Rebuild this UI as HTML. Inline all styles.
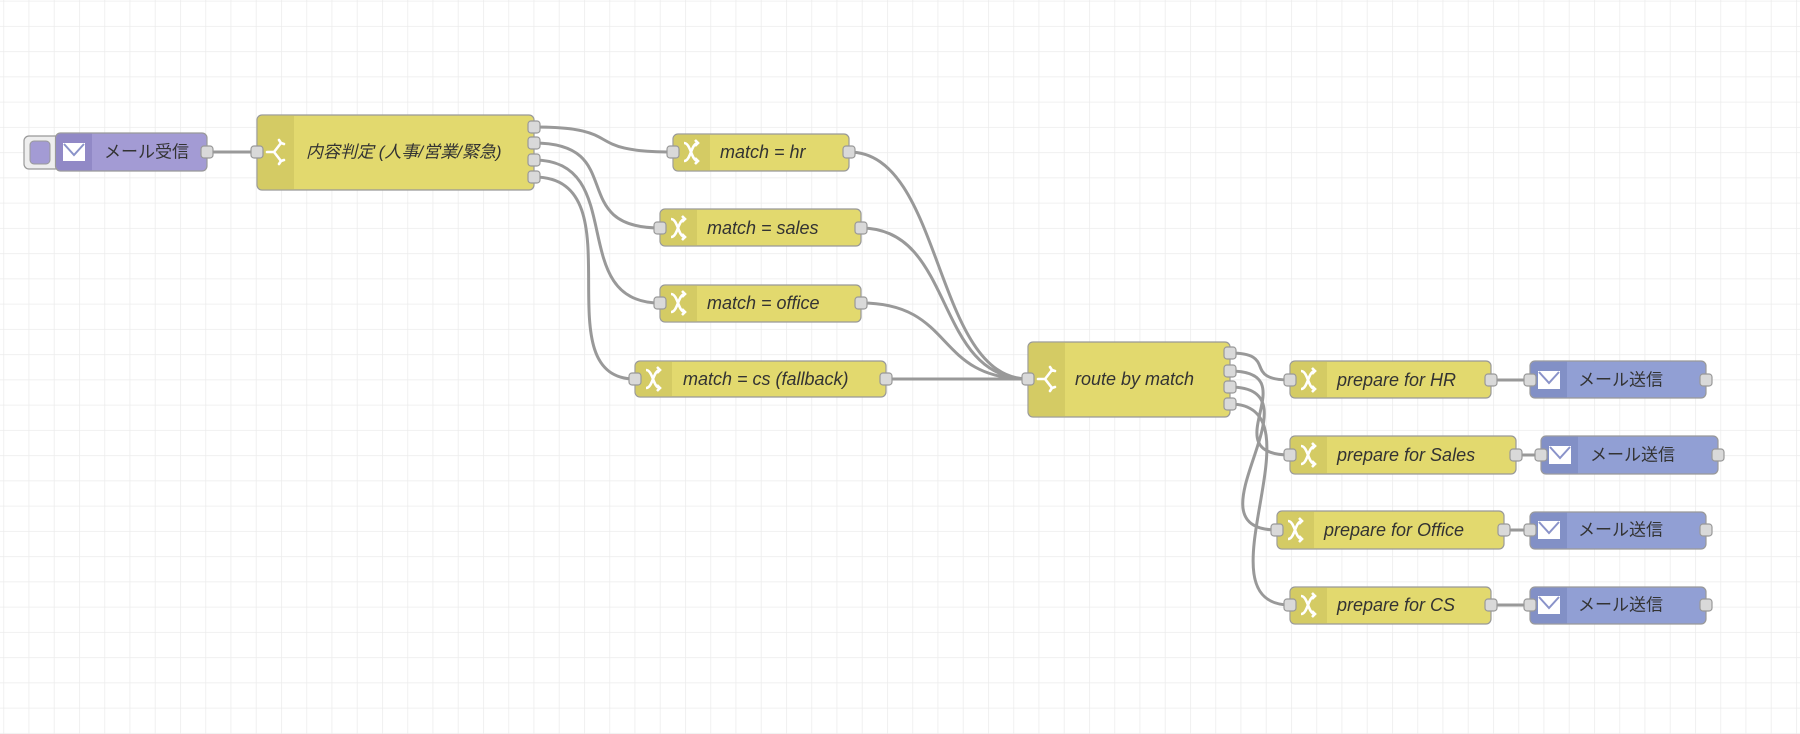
<!DOCTYPE html>
<html><head><meta charset="utf-8"><style>
html,body{margin:0;padding:0;background:#fff;}
svg{display:block;}
text{font-family:"Liberation Sans","Noto Sans CJK JP",sans-serif;fill:#333;dominant-baseline:central;}
.l{font-style:italic;font-size:18px;}
.j{font-size:17px;}
.w{fill:none;stroke:#999;stroke-width:3;}
.y{fill:#e2d96e;stroke:#999;stroke-width:1.2;}
.yi{fill:#d4cb64;}
.p{fill:#a39bd4;stroke:#999;stroke-width:1.2;}
.pi{fill:#9189c6;}
.b{fill:#919fd4;stroke:#999;stroke-width:1.2;}
.bi{fill:#8290c6;}
.pt{fill:#d9d9d9;stroke:#999;stroke-width:1.2;}
</style></head><body>
<svg width="1800" height="734" viewBox="0 0 1800 734" xmlns="http://www.w3.org/2000/svg">
<defs>
<pattern id="g" x="3.3" y="0.7" width="25.25" height="25.25" patternUnits="userSpaceOnUse">
<path d="M0,0 H25.25 M0,0 V25.25" stroke="#ececec" stroke-width="1.5" fill="none"/>
</pattern>
<g id="sw"><path d="M-9,0 H-2 M-2,0 L5,-9 M5,-9 L3,-12 M5,-9 L8,-8 M-2,0 L5,9 M5,9 L3,12 M5,9 L8,8" stroke="#fff" stroke-width="2.6" fill="none" stroke-linecap="round"/></g>
<g id="ch"><path d="M-7,-9 C0,-9 0,9 7,9 M-7,9 C0,9 0,-9 7,-9 M4,-12 L7,-9 L4,-6 M4,6 L7,9 L4,12" stroke="#fff" stroke-width="2.6" fill="none"/></g>
<g id="env"><rect x="-11" y="-9" width="22" height="18" fill="#fff"/><path d="M-10,-8 L0,3 L10,-8" stroke="#8a93c9" stroke-width="2" fill="none"/></g>
</defs>
<rect width="1800" height="734" fill="url(#g)"/>

<path class="w" d="M207,152 L257,152"/>
<path class="w" d="M534,127 C629,127 578,152 673,152"/>
<path class="w" d="M534,143 C629,143 565,228 660,228"/>
<path class="w" d="M534,160 C629,160 565,303 660,303"/>
<path class="w" d="M534,177 C640,177 540,379 635,379"/>
<path class="w" d="M849,152 C944,152 933,379 1028,379"/>
<path class="w" d="M861,228 C956,228 933,379 1028,379"/>
<path class="w" d="M861,303 C956,303 933,379 1028,379"/>
<path class="w" d="M886,379 L1028,379"/>
<path class="w" d="M1230,353 C1279,353 1241,380 1290,380"/>
<path class="w" d="M1230,371 C1309,371 1211,455 1290,455"/>
<path class="w" d="M1230,387 C1325,387 1182,530 1277,530"/>
<path class="w" d="M1230,404 C1325,404 1195,605 1290,605"/>
<path class="w" d="M1491,380 L1530,380"/>
<path class="w" d="M1516,455 L1541,455"/>
<path class="w" d="M1504,530 L1530,530"/>
<path class="w" d="M1491,605 L1530,605"/>

<rect x="24" y="136" width="36" height="33" rx="5" fill="#eee" stroke="#999" stroke-width="1.2"/>
<rect x="30" y="141" width="20" height="23" rx="4" fill="#a39bd4" stroke="#999" stroke-width="1"/>
<rect class="p" x="55.5" y="133" width="151.5" height="38" rx="5"/>
<path class="pi" d="M61,133.6 H92 V170.4 H61 A5,5 0 0 1 56.1,165 V139 A5,5 0 0 1 61,133.6Z"/>
<use href="#env" x="74" y="152"/>
<text class="j" x="104" y="152">メール受信</text>
<rect class="pt" x="201" y="146" width="12" height="12" rx="3"/>

<rect class="y" x="257" y="115" width="277" height="75" rx="5"/>
<path class="yi" d="M262,115.6 H294 V189.4 H262 A5,5 0 0 1 257.6,184 V121 A5,5 0 0 1 262,115.6Z"/>
<use href="#sw" x="276" y="152"/>
<text class="l" x="306" y="152" style="font-size:17px">内容判定 (人事/営業/緊急)</text>
<rect class="pt" x="251" y="146" width="12" height="12" rx="3"/>
<rect class="pt" x="528" y="121" width="12" height="12" rx="3"/>
<rect class="pt" x="528" y="137" width="12" height="12" rx="3"/>
<rect class="pt" x="528" y="154" width="12" height="12" rx="3"/>
<rect class="pt" x="528" y="171" width="12" height="12" rx="3"/>

<g>
<rect class="y" x="673" y="134" width="176" height="37" rx="5"/>
<path class="yi" d="M678,134.6 H710 V170.4 H678 A5,5 0 0 1 673.6,166 V139 A5,5 0 0 1 678,134.6Z"/>
<use href="#ch" x="691" y="152"/>
<text class="l" x="720" y="152">match = hr</text>
<rect class="pt" x="667" y="146" width="12" height="12" rx="3"/>
<rect class="pt" x="843" y="146" width="12" height="12" rx="3"/>
</g>
<g>
<rect class="y" x="660" y="209" width="201" height="37" rx="5"/>
<path class="yi" d="M665,209.6 H697 V245.4 H665 A5,5 0 0 1 660.6,241 V214 A5,5 0 0 1 665,209.6Z"/>
<use href="#ch" x="678" y="228"/>
<text class="l" x="707" y="228">match = sales</text>
<rect class="pt" x="654" y="222" width="12" height="12" rx="3"/>
<rect class="pt" x="855" y="222" width="12" height="12" rx="3"/>
</g>
<g>
<rect class="y" x="660" y="285" width="201" height="37" rx="5"/>
<path class="yi" d="M665,285.6 H697 V321.4 H665 A5,5 0 0 1 660.6,317 V290 A5,5 0 0 1 665,285.6Z"/>
<use href="#ch" x="678" y="303"/>
<text class="l" x="707" y="303">match = office</text>
<rect class="pt" x="654" y="297" width="12" height="12" rx="3"/>
<rect class="pt" x="855" y="297" width="12" height="12" rx="3"/>
</g>
<g>
<rect class="y" x="635" y="361" width="251" height="36" rx="5"/>
<path class="yi" d="M640,361.6 H672 V396.4 H640 A5,5 0 0 1 635.6,392 V366 A5,5 0 0 1 640,361.6Z"/>
<use href="#ch" x="653" y="379"/>
<text class="l" x="683" y="379">match = cs (fallback)</text>
<rect class="pt" x="629" y="373" width="12" height="12" rx="3"/>
<rect class="pt" x="880" y="373" width="12" height="12" rx="3"/>
</g>

<rect class="y" x="1028" y="342" width="202" height="75" rx="5"/>
<path class="yi" d="M1033,342.6 H1065 V416.4 H1033 A5,5 0 0 1 1028.6,411 V348 A5,5 0 0 1 1033,342.6Z"/>
<use href="#sw" x="1047" y="379"/>
<text class="l" x="1075" y="379">route by match</text>
<rect class="pt" x="1022" y="373" width="12" height="12" rx="3"/>
<rect class="pt" x="1224" y="347" width="12" height="12" rx="3"/>
<rect class="pt" x="1224" y="365" width="12" height="12" rx="3"/>
<rect class="pt" x="1224" y="381" width="12" height="12" rx="3"/>
<rect class="pt" x="1224" y="398" width="12" height="12" rx="3"/>

<g>
<rect class="y" x="1290" y="361" width="201" height="37" rx="5"/>
<path class="yi" d="M1295,361.6 H1327 V397.4 H1295 A5,5 0 0 1 1290.6,393 V366 A5,5 0 0 1 1295,361.6Z"/>
<use href="#ch" x="1308" y="380"/>
<text class="l" x="1337" y="380">prepare for HR</text>
<rect class="pt" x="1284" y="374" width="12" height="12" rx="3"/>
<rect class="pt" x="1485" y="374" width="12" height="12" rx="3"/>
</g>
<g>
<rect class="y" x="1290" y="436" width="226" height="38" rx="5"/>
<path class="yi" d="M1295,436.6 H1327 V473.4 H1295 A5,5 0 0 1 1290.6,469 V441 A5,5 0 0 1 1295,436.6Z"/>
<use href="#ch" x="1308" y="455"/>
<text class="l" x="1337" y="455">prepare for Sales</text>
<rect class="pt" x="1284" y="449" width="12" height="12" rx="3"/>
<rect class="pt" x="1510" y="449" width="12" height="12" rx="3"/>
</g>
<g>
<rect class="y" x="1277" y="511" width="227" height="38" rx="5"/>
<path class="yi" d="M1282,511.6 H1314 V548.4 H1282 A5,5 0 0 1 1277.6,544 V516 A5,5 0 0 1 1282,511.6Z"/>
<use href="#ch" x="1295" y="530"/>
<text class="l" x="1324" y="530">prepare for Office</text>
<rect class="pt" x="1271" y="524" width="12" height="12" rx="3"/>
<rect class="pt" x="1498" y="524" width="12" height="12" rx="3"/>
</g>
<g>
<rect class="y" x="1290" y="587" width="201" height="37" rx="5"/>
<path class="yi" d="M1295,587.6 H1327 V623.4 H1295 A5,5 0 0 1 1290.6,619 V592 A5,5 0 0 1 1295,587.6Z"/>
<use href="#ch" x="1308" y="605"/>
<text class="l" x="1337" y="605">prepare for CS</text>
<rect class="pt" x="1284" y="599" width="12" height="12" rx="3"/>
<rect class="pt" x="1485" y="599" width="12" height="12" rx="3"/>
</g>

<g>
<rect class="b" x="1530" y="361" width="176" height="37" rx="5"/>
<path class="bi" d="M1535,361.6 H1567 V397.4 H1535 A5,5 0 0 1 1530.6,393 V366 A5,5 0 0 1 1535,361.6Z"/>
<use href="#env" x="1549" y="380"/>
<text class="j" x="1578" y="380">メール送信</text>
<rect class="pt" x="1524" y="374" width="12" height="12" rx="3"/>
<rect class="pt" x="1700" y="374" width="12" height="12" rx="3"/>
</g>
<g>
<rect class="b" x="1541" y="436" width="177" height="38" rx="5"/>
<path class="bi" d="M1546,436.6 H1578 V473.4 H1546 A5,5 0 0 1 1541.6,469 V441 A5,5 0 0 1 1546,436.6Z"/>
<use href="#env" x="1560" y="455"/>
<text class="j" x="1590" y="455">メール送信</text>
<rect class="pt" x="1535" y="449" width="12" height="12" rx="3"/>
<rect class="pt" x="1712" y="449" width="12" height="12" rx="3"/>
</g>
<g>
<rect class="b" x="1530" y="512" width="176" height="37" rx="5"/>
<path class="bi" d="M1535,512.6 H1567 V548.4 H1535 A5,5 0 0 1 1530.6,544 V517 A5,5 0 0 1 1535,512.6Z"/>
<use href="#env" x="1549" y="530"/>
<text class="j" x="1578" y="530">メール送信</text>
<rect class="pt" x="1524" y="524" width="12" height="12" rx="3"/>
<rect class="pt" x="1700" y="524" width="12" height="12" rx="3"/>
</g>
<g>
<rect class="b" x="1530" y="587" width="176" height="37" rx="5"/>
<path class="bi" d="M1535,587.6 H1567 V623.4 H1535 A5,5 0 0 1 1530.6,619 V592 A5,5 0 0 1 1535,587.6Z"/>
<use href="#env" x="1549" y="605"/>
<text class="j" x="1578" y="605">メール送信</text>
<rect class="pt" x="1524" y="599" width="12" height="12" rx="3"/>
<rect class="pt" x="1700" y="599" width="12" height="12" rx="3"/>
</g>
</svg>
</body></html>
